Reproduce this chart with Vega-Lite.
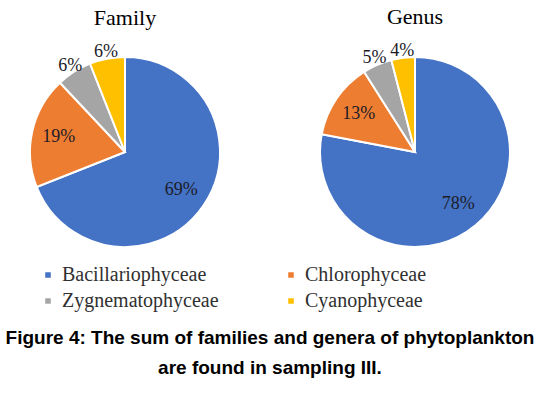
{
  "$schema": "https://vega.github.io/schema/vega-lite/v6.json",
  "background": "white",
  "padding": 5,
  "datasets": {
    "pie": [
      {"group": "Family", "cls": "Bacillariophyceae", "idx": 1, "value": 69, "label": "69%"},
      {"group": "Family", "cls": "Chlorophyceae", "idx": 2, "value": 19, "label": "19%"},
      {"group": "Family", "cls": "Zygnematophyceae", "idx": 3, "value": 6, "label": "6%"},
      {"group": "Family", "cls": "Cyanophyceae", "idx": 4, "value": 6, "label": "6%"},
      {"group": "Genus", "cls": "Bacillariophyceae", "idx": 1, "value": 78, "label": "78%"},
      {"group": "Genus", "cls": "Chlorophyceae", "idx": 2, "value": 13, "label": "13%"},
      {"group": "Genus", "cls": "Zygnematophyceae", "idx": 3, "value": 5, "label": "5%"},
      {"group": "Genus", "cls": "Cyanophyceae", "idx": 4, "value": 4, "label": "4%"}
    ]
  },
  "hconcat": [
    {
      "title": {"text": "Family", "font": "Liberation Serif", "fontSize": 22, "fontWeight": "normal", "color": "black", "offset": 13},
      "width": 240,
      "height": 190,
      "data": {"name": "pie"},
      "transform": [{"filter": "datum.group === 'Family'"}],
      "encoding": {
        "theta": {"field": "value", "type": "quantitative", "stack": true},
        "order": {"field": "idx", "type": "quantitative"}
      },
      "layer": [
        {
          "mark": {"type": "arc", "stroke": "white", "strokeWidth": 2},
          "encoding": {
            "color": {"field": "cls", "type": "nominal", "title": null,
              "scale": {"domain": ["Bacillariophyceae", "Chlorophyceae", "Zygnematophyceae", "Cyanophyceae"],
                        "range": ["#4472C4", "#ED7D31", "#A5A5A5", "#FFC000"]}}
          }
        },
        {
          "mark": {"type": "text", "font": "serif", "fontSize": 18, "color": "#1c1c28"},
          "encoding": {
            "text": {"field": "label", "type": "nominal"},
            "radius": {"field": "value", "type": "quantitative", "scale": {"type": "linear", "domain": [6, 13], "range": [102, 68], "clamp": true, "zero": false}}
          }
        }
      ]
    },
    {
      "title": {"text": "Genus", "font": "Liberation Serif", "fontSize": 22, "fontWeight": "normal", "color": "black", "offset": 13},
      "width": 240,
      "height": 190,
      "data": {"name": "pie"},
      "transform": [{"filter": "datum.group === 'Genus'"}],
      "encoding": {
        "theta": {"field": "value", "type": "quantitative", "stack": true},
        "order": {"field": "idx", "type": "quantitative"}
      },
      "layer": [
        {
          "mark": {"type": "arc", "stroke": "white", "strokeWidth": 2},
          "encoding": {
            "color": {"field": "cls", "type": "nominal", "title": null,
              "scale": {"domain": ["Bacillariophyceae", "Chlorophyceae", "Zygnematophyceae", "Cyanophyceae"],
                        "range": ["#4472C4", "#ED7D31", "#A5A5A5", "#FFC000"]}}
          }
        },
        {
          "mark": {"type": "text", "font": "serif", "fontSize": 18, "color": "#1c1c28"},
          "encoding": {
            "text": {"field": "label", "type": "nominal"},
            "radius": {"field": "value", "type": "quantitative", "scale": {"type": "linear", "domain": [6, 13], "range": [102, 68], "clamp": true, "zero": false}}
          }
        }
      ]
    }
  ],
  "spacing": 50,
  "resolve": {"scale": {"color": "shared", "radius": "independent"}, "legend": {"color": "shared"}},
  "title": {
    "text": ["Figure 4: The sum of families and genera of phytoplankton", "are found in sampling III."],
    "orient": "bottom",
    "anchor": "middle",
    "font": "Liberation Sans",
    "fontWeight": "bold",
    "fontSize": 19,
    "lineHeight": 30,
    "color": "black",
    "offset": 18
  },
  "config": {
    "view": {"stroke": null},
    "legend": {
      "orient": "none",
      "legendX": 33,
      "legendY": 208,
      "columns": 2,
      "direction": "horizontal",
      "labelFont": "Times New Roman",
      "labelFontSize": 20,
      "labelColor": "#303030",
      "symbolType": "square",
      "symbolSize": 50,
      "rowPadding": 6,
      "columnPadding": 62,
      "labelLimit": 300
    }
  }
}
